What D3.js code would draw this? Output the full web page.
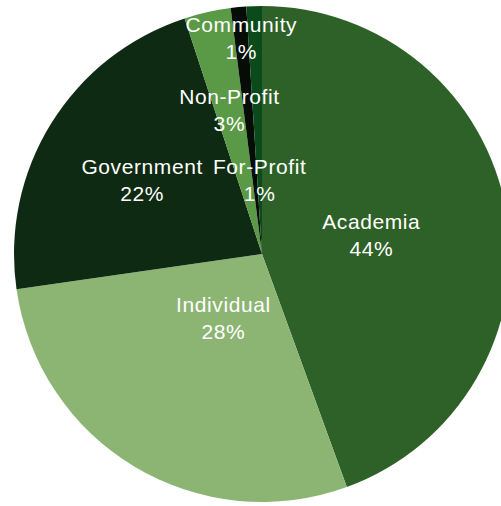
<!DOCTYPE html>
<html>
<head>
<meta charset="utf-8">
<script src="https://cdn.jsdelivr.net/npm/d3@7"></script>
<style>
  html, body { margin: 0; padding: 0; background: #ffffff; }
  svg { display: block; }
  .lbl { font-family: "Liberation Sans", Arial, Helvetica, sans-serif; fill: #ffffff; }
</style>
</head>
<body>
<script>
// Funding sources, listed clockwise from 12 o'clock
const categories = ["Academia", "Individual", "Government", "Non-Profit", "Community", "For-Profit"];
const shares = [44, 28, 22, 3, 1, 1];
const percentLabels = ["44%", "28%", "22%", "3%", "1%", "1%"];
const sliceColors = ["#2e6127", "#8cb574", "#0f2a12", "#5a9945", "#060d06", "#0b4a1a"];
// distance of each label from the pie centre
const labelRadii = [111, 75, 141, 148, 217, 74];

const width = 501, height = 506;
const cx = 262, cy = 254, radius = 248;

const svg = d3.select("body").append("svg")
  .attr("width", width).attr("height", height);

const g = svg.append("g").attr("transform", `translate(${cx},${cy})`);

const data = categories.map((c, i) => ({ name: c, value: shares[i], pct: percentLabels[i], color: sliceColors[i], lr: labelRadii[i] }));

const pie = d3.pie().value(d => d.value).sort(null);
const arc = d3.arc().innerRadius(0).outerRadius(radius);
const arcs = pie(data);

g.selectAll("path.slice")
  .data(arcs)
  .join("path")
  .attr("class", "slice")
  .attr("d", arc)
  .attr("fill", d => d.data.color);

const labels = g.selectAll("g.label")
  .data(arcs)
  .join("g")
  .attr("class", "label")
  .attr("transform", d => {
    const a = (d.startAngle + d.endAngle) / 2;
    return `translate(${d.data.lr * Math.sin(a)},${-d.data.lr * Math.cos(a)})`;
  });

labels.append("text")
  .attr("class", "lbl")
  .attr("text-anchor", "middle")
  .attr("font-size", 21)
  .attr("letter-spacing", "0.6px")
  .attr("y", -6)
  .text(d => d.data.name);

labels.append("text")
  .attr("class", "lbl")
  .attr("text-anchor", "middle")
  .attr("font-size", 21)
  .attr("letter-spacing", "0.6px")
  .attr("y", 21)
  .text(d => d.data.pct);
</script>
</body>
</html>
